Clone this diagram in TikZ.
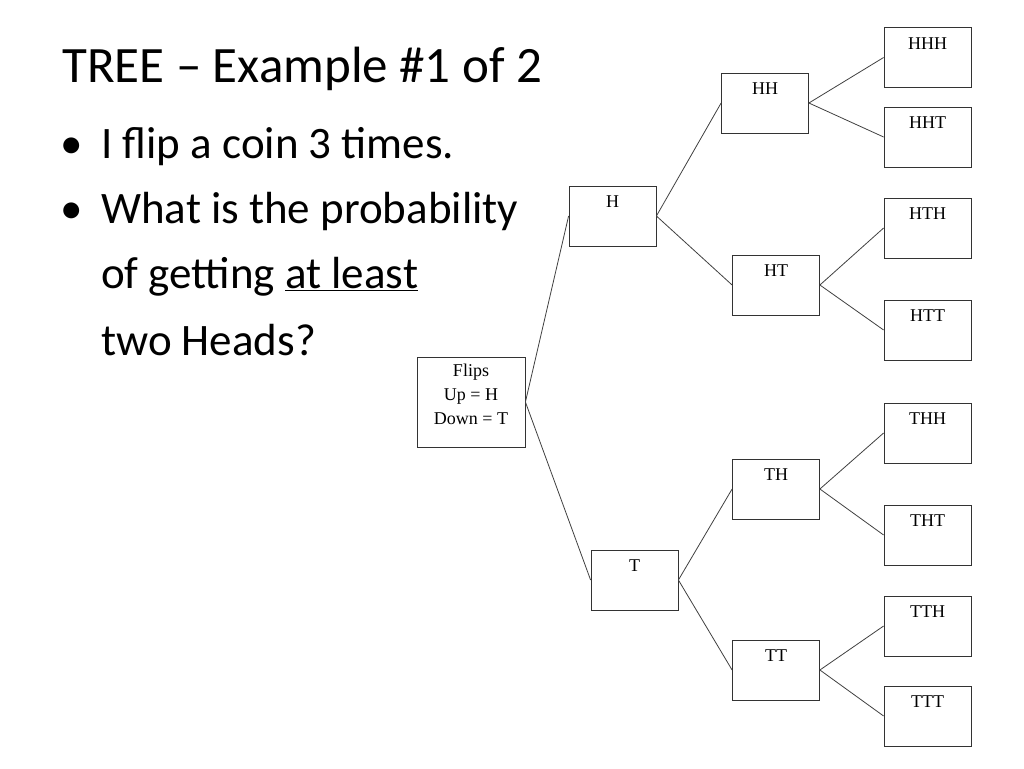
\documentclass[tikz,border=0pt]{standalone}
\usepackage{fontspec}
\setmainfont{Carlito}
\newfontfamily\boxfont{Liberation Serif}
\newfontfamily\flipfont{Liberation Serif}
\begin{document}
\begin{tikzpicture}[x=1pt,y=-1pt,
  bx/.style={draw=black!80,line width=0.8pt,minimum width=87pt,minimum height=60pt,inner sep=0pt},
  lab/.style={font=\boxfont\fontsize{18}{18}\selectfont,anchor=north,inner sep=0pt},
  ln/.style={draw=black!75,line width=0.8pt},
  bul/.style={anchor=base west,font=\fontsize{45}{45}\selectfont,inner sep=0pt}]
\useasboundingbox (0,0) rectangle (1024,768);
\node[anchor=base west,font=\fontsize{51}{51}\selectfont,inner sep=0pt] (title) at (62,82) {TREE -- Example \#1 of 2};
\node[bul] (d1) at (60,158) {\textbullet};
\node[bul] (b1) at (101,158) {I flip a coin 3 times.};
\node[bul] (d2) at (60,223) {\textbullet};
\node[bul] (b2) at (101,223) {What is the probability};
\node[bul] (b3) at (101,288) {of getting \underline{at least}};
\node[bul] (b4) at (101,355) {two Heads?};

\node[bx,minimum width=108pt,minimum height=90pt] (F) at (471,402) {};
\node[font=\flipfont\fontsize{18}{24}\selectfont,align=center,anchor=north,inner sep=0pt] (Ft) at (471,364) {Flips\\Up = H\\Down = T};
\newcommand{\mybox}[4]{\node[bx] (#1) at (#2,#3) {}; \node[lab] (#1t) at (#2,#3-20) {#4};}
\mybox{H}{612.5}{216}{H}
\mybox{T}{634.5}{580}{T}
\mybox{HH}{765}{103}{HH}
\mybox{HT}{776}{285}{HT}
\mybox{TH}{776}{489}{TH}
\mybox{TT}{776}{670}{TT}
\mybox{HHH}{927.5}{57.5}{HHH}
\mybox{HHT}{927.5}{137}{HHT}
\mybox{HTH}{927.5}{228}{HTH}
\mybox{HTT}{927.5}{330}{HTT}
\mybox{THH}{927.5}{433}{THH}
\mybox{THT}{927.5}{535}{THT}
\mybox{TTH}{927.5}{626}{TTH}
\mybox{TTT}{927.5}{716}{TTT}
\draw[ln] (F.east) -- (H.west);
\draw[ln] (F.east) -- (T.west);
\draw[ln] (H.east) -- (HH.west);
\draw[ln] (H.east) -- (HT.west);
\draw[ln] (T.east) -- (TH.west);
\draw[ln] (T.east) -- (TT.west);
\draw[ln] (HH.east) -- (HHH.west);
\draw[ln] (HH.east) -- (HHT.west);
\draw[ln] (HT.east) -- (HTH.west);
\draw[ln] (HT.east) -- (HTT.west);
\draw[ln] (TH.east) -- (THH.west);
\draw[ln] (TH.east) -- (THT.west);
\draw[ln] (TT.east) -- (TTH.west);
\draw[ln] (TT.east) -- (TTT.west);
\end{tikzpicture}
\end{document}
